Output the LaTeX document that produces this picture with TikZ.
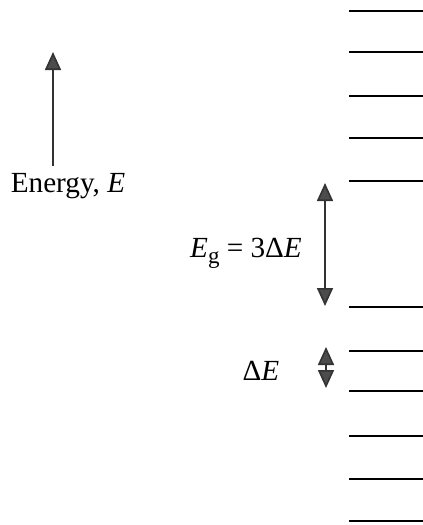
\documentclass[tikz,border=0pt]{standalone}
\usepackage{fontspec}
\setmainfont{Liberation Serif}
\usetikzlibrary{arrows.meta}

\begin{document}
\begin{tikzpicture}[
  x=0.5pt, y=-0.5pt,
  every node/.style={font=\fontsize{14.6}{17}\selectfont, inner sep=0pt},
  level/.style={line width=1.1pt, draw=black},
  arrow/.style={-{Triangle[length=9pt, width=8pt, fill=black!70]}, line width=0.8pt, draw=black!80},
  twoway/.style={arrow, {Triangle[length=9pt, width=8pt, fill=black!70]}-{Triangle[length=9pt, width=8pt, fill=black!70]}}
]
\useasboundingbox (0,0) rectangle (423,525);

% Energy levels
\foreach \y [count=\i] in {11,52,96,138,181,307,351,391,436,479,521} {
  \coordinate (lev\i) at (349,\y);
  \draw[level] (lev\i) -- (423,\y);
}

% Energy axis
\coordinate (axisbot) at (53,166);
\coordinate (axistop) at (53,52);
\draw[arrow] (axisbot) -- (axistop);
\node (energy) at (68,186) {Energy, \textit{E}};

% Band gap
\coordinate (gaptop) at (325,183);
\coordinate (gapbot) at (325,306);
\draw[twoway] (gaptop) -- (gapbot);
\node (gap) at (246,253) {\textit{E}\raisebox{-0.45ex}{\fontsize{11.5}{13}\selectfont g} = 3Δ\textit{E}};

% Level spacing
\coordinate (dtop) at (326,347);
\coordinate (dbot) at (326,388);
\draw[twoway] (dtop) -- (dbot);
\node (dE) at (261,371) {Δ\textit{E}};

\end{tikzpicture}
\end{document}
